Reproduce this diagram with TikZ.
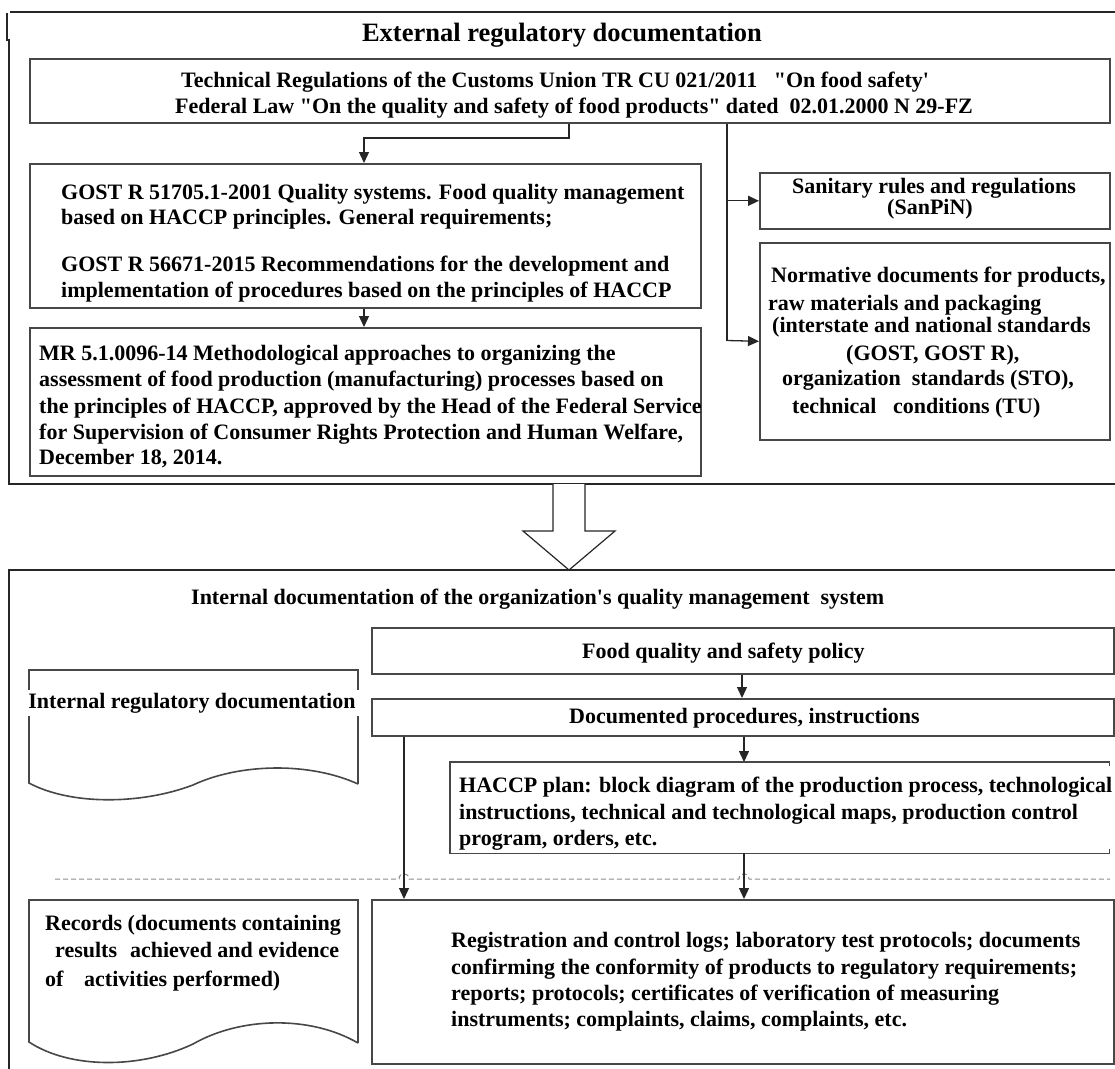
\documentclass[tikz,border=0pt]{standalone}
\usepackage{fontspec}
\setmainfont{Liberation Serif}[Ligatures=TeXOff]
\usetikzlibrary{arrows.meta}
\newcommand\bxn[5]{\node[bx, minimum width={#4-#2}, minimum height={#5-#3}] (#1) at (#2,#3) {};}
\begin{document}
\begin{tikzpicture}[x=1pt,y=-1pt,
  bx/.style={draw=black!72, line width=1.6pt, anchor=north west, inner sep=0pt},
  bxline/.style={draw=black!72, line width=1.6pt},
  frm/.style={draw=black!85, line width=1.4pt},
  tx/.style={inner sep=0pt, anchor=base west, font=\fontsize{22}{26}\selectfont\bfseries},
  txc/.style={tx, anchor=base},
  ln/.style={draw=black!85, line width=1.3pt},
  ar/.style={ln, -{Triangle[length=11pt,width=10pt]}},
  hop/.style={draw=black!45, line width=1pt, dash pattern=on 5pt off 3pt},
]
\useasboundingbox (0,0) rectangle (1115,1068);
\clip (0,0) rectangle (1115,1068);

% outer frames
\draw[frm] (1130,12) -- (10,12);
\draw[frm] (7,13) -- (7,40) -- (9,40) -- (9,484) -- (1130,484);
\draw[frm] (9,1080) -- (9,570) -- (1130,570);

% ---------- external part ----------
\node[inner sep=0pt, anchor=base, font=\fontsize{26.5}{30}\selectfont\bfseries] (t1) at (562,41) {External regulatory documentation};

\bxn{tr}{29}{58}{1109}{122}
\bxn{gost}{29}{163}{700}{307}
\bxn{mr}{29}{327}{700}{475}
\bxn{san}{759}{172}{1109}{228}
\bxn{norm}{759}{242}{1109}{439}

\node[tx] (tr1) at (181,87) {Technical Regulations of the Customs Union TR CU 021/2011\ \ \ "On food safety'};
\node[tx] (tr2) at (175,113) {Federal Law "On the quality and safety of food products" dated\ \ 02.01.2000 N 29-FZ};

\node[tx] (g1) at (61,199) {GOST R 51705.1-2001 Quality systems. Food quality management};
\node[tx] (g2) at (61,224) {based on HACCP principles. General requirements;};
\node[tx] (g3) at (61,271) {GOST R 56671-2015 Recommendations for the development and};
\node[tx] (g4) at (61,297) {implementation of procedures based on the principles of HACCP};

\node[tx] (m1) at (39,360) {MR 5.1.0096-14 Methodological approaches to organizing the};
\node[tx] (m2) at (39,386) {assessment of food production (manufacturing) processes based on};
\node[tx] (m3) at (39,413) {the principles of HACCP, approved by the Head of the Federal Service};
\node[tx] (m4) at (39,439) {for Supervision of Consumer Rights Protection and Human Welfare,};
\node[tx] (m5) at (39,464) {December 18, 2014.};

\node[txc] (s1) at (934,193) {Sanitary rules and regulations};
\node[txc] (s2) at (930,214) {(SanPiN)};

\node[tx] (n1) at (771,282) {Normative documents for products,};
\node[tx] (n2) at (768,310) {raw materials and packaging};
\node[tx] (n3) at (772,332) {(interstate and national standards};
\node[tx] (n4) at (846,360) {(GOST, GOST R),};
\node[tx] (n5) at (782,385) {organization\ \ standards (STO),};
\node[tx] (n6) at (792,413) {technical\ \ \ conditions (TU)};

% connectors (external)
\coordinate (j1) at (569,138);
\coordinate (k1) at (364,138);
\coordinate (j2) at (727,340.5);
\draw[ar] (tr.south -| j1) -- (j1) -- (k1) -- (gost.north -| k1);
\draw[ar] (gost.south -| k1) -- (mr.north -| k1);
\draw[ln] (tr.south -| j2) -- (j2);
\draw[ar] (j2 |- san.west) -- (san.west);
\draw[ar] (j2) -- (norm.west);

% big hollow arrow
\draw[frm, line width=1.2pt, fill=white] (553,484) -- (553,531) -- (523,531) -- (569,570) -- (615,531) -- (585,531) -- (585,484);

% ---------- internal part ----------
\node[tx] (t2) at (191,604) {Internal documentation of the organization's quality management\ \ system};

\bxn{pol}{371}{627}{1113}{673}
\bxn{dp}{371}{698}{1113}{735}
\node[inner sep=0pt, anchor=north west, minimum width=659, minimum height=91] (hp) at (450,762) {};
\draw[bxline] ([yshift=-4pt]hp.north east) -- (hp.north east) -- (hp.north west) -- (hp.south west) -- (hp.south east) -- ([yshift=4pt]hp.south east);
\bxn{reg}{371}{899}{1113}{1063}

\node[tx] (p1) at (582,658) {Food quality and safety policy};
\node[tx] (d1) at (569,723) {Documented procedures, instructions};

\node[tx] (h1) at (459,792) {HACCP plan: block diagram of the production process, technological};
\node[tx] (h2) at (459,819) {instructions, technical and technological maps, production control};
\node[tx] (h3) at (459,845) {program, orders, etc.};

\node[tx] (r1) at (451,947) {Registration and control logs; laboratory test protocols; documents};
\node[tx] (r2) at (451,974) {confirming the conformity of products to regulatory requirements;};
\node[tx] (r3) at (451,1000) {reports; protocols; certificates of verification of measuring};
\node[tx] (r4) at (451,1026) {instruments; complaints, claims, complaints, etc.};

% document shapes
\draw[bxline] (358,784) -- (358,670) -- (29,670) -- (29,783)
  .. controls (70,805) and (140,805) .. (193,785)
  .. controls (240,763) and (310,762) .. (358,784);
\node[tx, anchor=base, fill=white, inner xsep=4pt, inner ysep=3pt] (ird) at (192,708) {Internal regulatory documentation};

\draw[bxline] (358,1043) -- (358,900) -- (29,900) -- (29,1042)
  .. controls (70,1069) and (140,1069) .. (193,1044)
  .. controls (240,1017) and (310,1015) .. (358,1043);
\node[tx] (rc1) at (45,930) {Records (documents containing};
\node[tx] (rc2) at (55,957) {results\hspace{13pt}achieved and evidence};
\node[tx] (rc3) at (45,986) {of\hspace{20.7pt}activities performed)};

% dashed separator with hops
\draw[hop] (55,879) -- (399,879) .. controls (399,872) and (409,872) .. (409,879)
  -- (739,879) .. controls (739,872) and (749,872) .. (749,879) -- (1110,879);

% connectors (internal)
\coordinate (v1) at (404,0);
\coordinate (v2) at (744,0);
\coordinate (v3) at (742,0);
\draw[ar] (pol.south -| v3) -- (dp.north -| v3);
\draw[ar] (dp.south -| v2) -- (hp.north -| v2);
\draw[ar] (dp.south -| v1) -- (reg.north -| v1);
\draw[ar] (hp.south -| v2) -- (reg.north -| v2);
\end{tikzpicture}
\end{document}
